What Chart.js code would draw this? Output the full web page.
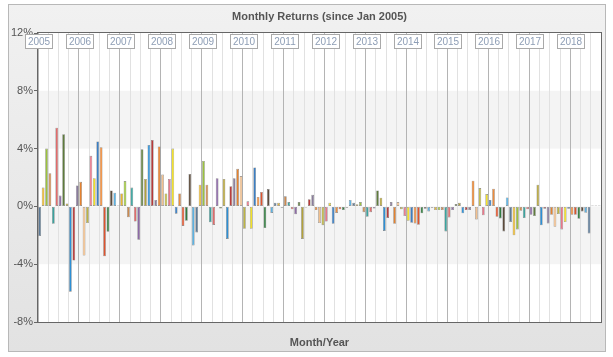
<!DOCTYPE html>
<html>
<head>
<meta charset="utf-8">
<script src="https://cdn.jsdelivr.net/npm/chart.js@4/dist/chart.umd.min.js"></script>
<style>
html,body{margin:0;padding:0;background:#fff;}
canvas{display:block;}
</style>
</head>
<body>
<canvas id="c" width="613" height="357"></canvas>
<script>
// ---- data ----
const chartTitle = 'Monthly Returns (since Jan 2005)';
const xAxisTitle = 'Month/Year';
const years = ['2005','2006','2007','2008','2009','2010','2011','2012','2013','2014','2015','2016','2017','2018'];
const monthNames = ['Jan','Feb','Mar','Apr','May','Jun','Jul','Aug','Sep','Oct','Nov','Dec'];
const yTicks = [-8, -4, 0, 4, 8, 12];

// monthly returns in %, Jan 2005 .. Sep 2018
const returns2005 = [-2.05, 1.3, 4.0, 2.3, -1.2, 5.45, 0.75, 5.0, 0.2, -5.9, -3.75, 1.45];
const returns2006 = [1.7, -3.4, -1.15, 3.5, 1.95, 4.5, 4.1, -3.45, -1.75, 1.1, 0.95, 0.05];
const returns2007 = [0.9, 1.75, -0.75, 1.3, -1.05, -2.3, 3.95, 1.9, 4.25, 4.6, 0.45, 4.15];
const returns2008 = [2.2, 0.9, 1.9, 4.0, -0.5, 0.9, -1.35, -1.0, 2.25, -2.7, -1.8, 1.5];
const returns2009 = [3.15, 1.5, -1.1, -1.28, 1.95, -0.15, 1.9, -2.25, 1.4, 1.95, 2.6, 2.1];
const returns2010 = [-1.55, 0.35, -1.55, 2.7, 0.65, 1.0, -1.5, 1.2, -0.45, 0.25, 0.25, -0.1];
const returns2011 = [0.7, 0.3, -0.2, -0.55, 0.3, -2.25, -0.05, 0.5, 0.8, -0.25, -1.15, -1.3];
const returns2012 = [-1.05, 0.25, -1.2, -0.45, -0.2, -0.25, -0.1, 0.45, 0.25, 0.15, 0.3, -0.4];
const returns2013 = [-0.72, -0.4, -0.15, 1.1, 0.6, -1.7, -0.8, 0.3, -1.2, 0.3, -0.2, -0.67];
const returns2014 = [-1.0, -1.13, -1.18, -1.27, -0.48, -0.16, -0.35, -0.1, -0.25, -0.25, -0.25, -1.73];
const returns2015 = [-0.76, -0.25, 0.16, 0.25, -0.48, -0.25, -0.25, 1.78, -0.9, 1.27, -0.62, 0.85];
const returns2016 = [0.44, 1.22, -0.72, -0.83, -1.73, 0.62, -1.08, -2.0, -1.59, -0.3, -0.81, -0.2];
const returns2017 = [-0.58, -0.67, 1.5, -1.31, -0.16, -1.18, -0.58, -1.41, -0.53, -1.59, -1.08, -0.16];
const returns2018 = [-0.58, -0.58, -0.85, -0.35, -0.44, -1.87, 0.03, 0.03, 0.03];

const returns = [].concat(returns2005, returns2006, returns2007, returns2008, returns2009,
  returns2010, returns2011, returns2012, returns2013, returns2014, returns2015,
  returns2016, returns2017, returns2018);

const labels = [];
years.forEach(y => monthNames.forEach(m => labels.push(m + ' ' + y)));
labels.length = returns.length;

// ---- style ----
const palette = ['#5d7b98','#e9b832','#9cc43c','#cd8a4f','#3aa39e','#e06c6c','#8d6aa6','#5f7d3c',
  '#b3a23a','#2d8fd5','#b83a3a','#8a7c9c','#e6822e','#f2c08e','#bdb542','#e9788a','#f2e12a',
  '#3b7fc4','#ee8c3c','#e0532d','#317c3f','#5c4b3b','#5cb2e2'];
const FONT = "'Liberation Sans', Arial, sans-serif";

const backdrop = {
  id: 'backdrop',
  beforeDraw(chart) {
    const {ctx, chartArea: a, scales: {y}} = chart;
    ctx.save();
    ctx.fillStyle = '#fff';
    ctx.fillRect(0, 0, chart.width, chart.height);
    const g = ctx.createLinearGradient(0, 4, 0, 352);
    g.addColorStop(0, '#f1f1f1');
    g.addColorStop(1, '#e2e2e2');
    ctx.fillStyle = g;
    ctx.fillRect(8.5, 4.5, 597, 347);
    ctx.strokeStyle = '#b8b8b8';
    ctx.lineWidth = 1;
    ctx.strokeRect(8.5, 4.5, 597, 347);
    ctx.fillStyle = '#fff';
    ctx.fillRect(a.left, a.top, a.width, a.height);
    ctx.fillStyle = '#f4f4f4';
    for (let k = 0; k < yTicks.length - 1; k++) {
      if (k % 2 === 1) {
        const top = y.getPixelForValue(yTicks[k + 1]);
        const bot = y.getPixelForValue(yTicks[k]);
        ctx.fillRect(a.left, top, a.width, bot - top);
      }
    }
    ctx.restore();
  },
  afterDatasetsDraw(chart) {
    const {ctx, chartArea: a} = chart;
    ctx.save();
    ctx.strokeStyle = '#666';
    ctx.lineWidth = 1;
    ctx.strokeRect(Math.round(a.left) - 0.5, Math.round(a.top) - 0.5, Math.round(a.width) + 1, Math.round(a.height) + 1);
    ctx.restore();
  },
  afterDraw(chart) {
    const {ctx, chartArea: a, scales: {x}} = chart;
    const slot = x.getPixelForValue(1) - x.getPixelForValue(0);
    ctx.save();
    ctx.font = '10px ' + FONT;
    ctx.textAlign = 'center';
    ctx.textBaseline = 'middle';
    years.forEach((yr, k) => {
      const px = x.getPixelForValue(k * 12) - slot / 2;
      const cx = Math.round(px) + 1;
      const w = 27, h = 14, top = a.top + 1.5;
      ctx.fillStyle = '#fff';
      ctx.fillRect(cx - w / 2, top, w, h);
      ctx.strokeStyle = '#a9a9a9';
      ctx.lineWidth = 1;
      ctx.strokeRect(cx - w / 2, top, w, h);
      ctx.fillStyle = '#8d9db5';
      ctx.fillText(yr, cx, top + h / 2 + 0.5);
    });
    ctx.restore();
  }
};

new Chart(document.getElementById('c'), {
  type: 'bar',
  data: {
    labels: labels,
    datasets: [{
      data: returns,
      backgroundColor: c => palette[c.dataIndex % palette.length],
      borderColor: 'rgba(115,115,115,0.9)',
      borderWidth: 0.6,
      borderSkipped: false,
      barPercentage: 0.8,
      categoryPercentage: 1.0,
      minBarLength: 1
    }]
  },
  options: {
    responsive: false,
    devicePixelRatio: 1,
    animation: false,
    layout: { padding: { left: 8, right: 12, top: 4, bottom: 5 } },
    plugins: {
      legend: { display: false },
      tooltip: { enabled: false },
      title: {
        display: true,
        text: chartTitle,
        fullSize: false,
        color: '#555',
        font: { family: FONT, size: 11, weight: 'bold' },
        padding: { top: 6, bottom: 9.8 }
      }
    },
    scales: {
      x: {
        type: 'category',
        offset: true,
        border: { display: false },
        ticks: { display: false, autoSkip: false },
        grid: {
          offset: true,
          drawTicks: false,
          lineWidth: 1,
          color: c => (c.index % 12 === 0 ? '#b4b4b4' : (c.index % 3 === 0 ? '#e1e1e1' : 'rgba(0,0,0,0)'))
        },
        title: {
          display: true,
          text: xAxisTitle,
          color: '#555',
          font: { family: FONT, size: 11, weight: 'bold' },
          padding: { top: 0, bottom: 2 }
        },
        afterFit: s => { s.height = 30; }
      },
      y: {
        min: -8,
        max: 12,
        border: { display: false },
        ticks: {
          stepSize: 4,
          padding: 1,
          color: '#555',
          font: { family: FONT, size: 11 },
          callback: v => v + '%'
        },
        grid: { drawOnChartArea: false, drawTicks: true, tickLength: 4, color: '#666' },
        afterFit: s => { s.width = 30; }
      }
    }
  },
  plugins: [backdrop]
});
</script>
</body>
</html>
